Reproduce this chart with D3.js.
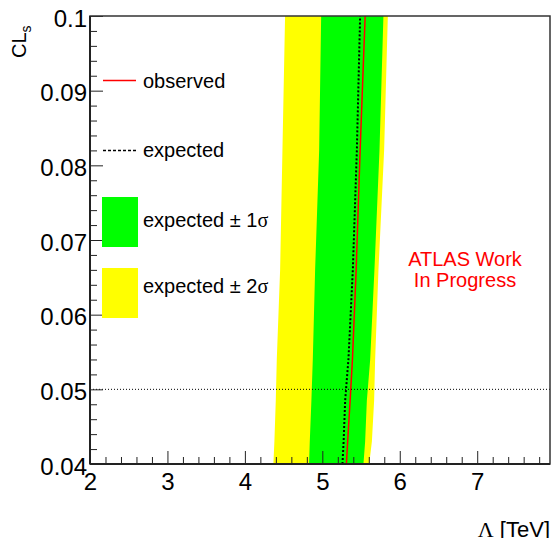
<!DOCTYPE html>
<html>
<head>
<meta charset="utf-8">
<script src="https://cdn.jsdelivr.net/npm/d3@7"></script>
<style>
  body { margin: 0; background: #fff; }
  text { font-family: "Liberation Sans", Arial, sans-serif; }
</style>
</head>
<body>
<div id="chart"></div>
<script>
var clsPoints = [0.04, 0.043, 0.0485, 0.054, 0.066, 0.082, 0.1];

// Lambda [TeV] of each curve at those CLs values
var yellowLow  = [4.368, 4.381, 4.399, 4.412, 4.455, 4.485, 4.519];
var greenLow   = [4.829, 4.838, 4.859, 4.877, 4.907, 4.959, 4.985];
var greenHigh  = [5.531, 5.553, 5.575, 5.618, 5.673, 5.738, 5.789];
var yellowHigh = [5.605, 5.640, 5.669, 5.682, 5.725, 5.798, 5.846];
var observed   = [5.311, 5.327, 5.359, 5.389, 5.437, 5.488, 5.553];
var expected   = [5.260, 5.275, 5.295, 5.337, 5.394, 5.446, 5.488];

// axis ticks
var xTicks = [2, 3, 4, 5, 6, 7];
var yTicks = [0.04, 0.05, 0.06, 0.07, 0.08, 0.09, 0.1];
var yTickLabels = ["0.04", "0.05", "0.06", "0.07", "0.08", "0.09", "0.1"];
var clsLimit = 0.05;

var svgWidth = 554;
var svgHeight = 538;

var margin = { top: 16, bottom: 74, right: 4, left: 90 };
var width = svgWidth - margin.left - margin.right;
var height = svgHeight - margin.top - margin.bottom;

var svg = d3.select("#chart")
    .append("svg")
    .attr("width", svgWidth)
    .attr("height", svgHeight);

var chartGroup = svg.append("g")
    .attr("transform", `translate(${margin.left}, ${margin.top})`);

var xScale = d3.scaleLinear().domain([2, 7.94]).range([0, width]);
var yScale = d3.scaleLinear().domain([0.04, 0.1]).range([height, 0]);

// clip the bands to the frame
chartGroup.append("clipPath").attr("id", "plotClip")
    .append("rect").attr("width", width).attr("height", height);

var plot = chartGroup.append("g").attr("clip-path", "url(#plotClip)");

function bandArea(lo, hi) {
    return d3.area()
        .y(function (d, i) { return yScale(clsPoints[i]); })
        .x0(function (d, i) { return xScale(lo[i]); })
        .x1(function (d, i) { return xScale(hi[i]); })(clsPoints);
}

function curveLine(vals) {
    return d3.line()
        .x(function (d, i) { return xScale(vals[i]); })
        .y(function (d, i) { return yScale(clsPoints[i]); })(clsPoints);
}

plot.append("path").attr("d", bandArea(yellowLow, yellowHigh)).attr("fill", "#ffff00");
plot.append("path").attr("d", bandArea(greenLow, greenHigh)).attr("fill", "#00ff00");

plot.append("path").attr("d", curveLine(expected))
    .attr("fill", "none").attr("stroke", "#000").attr("stroke-width", 2)
    .attr("stroke-dasharray", "2,2");
plot.append("path").attr("d", curveLine(observed))
    .attr("fill", "none").attr("stroke", "#ff0000").attr("stroke-width", 1.5);

// 95% CL line
chartGroup.append("line")
    .attr("x1", 0).attr("x2", width)
    .attr("y1", yScale(clsLimit)).attr("y2", yScale(clsLimit))
    .attr("stroke", "#000").attr("stroke-width", 1)
    .attr("stroke-dasharray", "1,2");

// x axis
var xMinor = d3.range(2, 7.95, 0.2).filter(function (v) { return Math.abs(v - Math.round(v)) > 0.01; });
chartGroup.append("g")
    .attr("transform", `translate(0, ${height})`)
    .call(d3.axisBottom(xScale).tickValues(xMinor).tickSize(-7).tickFormat(""))
    .call(function (g) { g.select(".domain").remove(); });

var xAxis = chartGroup.append("g")
    .attr("transform", `translate(0, ${height})`)
    .call(d3.axisBottom(xScale).tickValues(xTicks).tickSize(-13).tickPadding(9).tickFormat(d3.format("d")));
xAxis.select(".domain").remove();
xAxis.selectAll("text").attr("font-size", 24).attr("font-family", "Liberation Sans, Arial, sans-serif");

// y axis
var yMinor = d3.range(0.04, 0.1001, 0.002).filter(function (v) { return Math.abs(v * 100 - Math.round(v * 100)) > 0.01; });
chartGroup.append("g")
    .call(d3.axisLeft(yScale).tickValues(yMinor).tickSize(-7).tickFormat(""))
    .call(function (g) { g.select(".domain").remove(); });

var yAxis = chartGroup.append("g")
    .call(d3.axisLeft(yScale).tickValues(yTicks).tickSize(-13).tickPadding(3)
        .tickFormat(function (d, i) { return yTickLabels[i]; }));
yAxis.select(".domain").remove();
yAxis.selectAll("text").attr("font-size", 24).attr("dy", "0.42em")
    .attr("font-family", "Liberation Sans, Arial, sans-serif");

chartGroup.selectAll(".tick line").attr("stroke", "#222").attr("stroke-width", 1);

// frame
chartGroup.append("rect")
    .attr("width", width).attr("height", height)
    .attr("fill", "none").attr("stroke", "#333").attr("stroke-width", 1.5);
chartGroup.append("line")
    .attr("x1", 0).attr("x2", 0).attr("y1", 0).attr("y2", height)
    .attr("stroke", "#222").attr("stroke-width", 2);
chartGroup.append("line")
    .attr("x1", 0).attr("x2", width).attr("y1", height).attr("y2", height)
    .attr("stroke", "#222").attr("stroke-width", 2);

// axis titles
var xTitle = svg.append("text")
    .attr("x", 550).attr("y", 537)
    .attr("text-anchor", "end")
    .attr("font-size", 22);
xTitle.append("tspan").attr("font-family", "Liberation Serif, serif").text("Λ");
xTitle.append("tspan").text(" [TeV]");

var yTitle = svg.append("text")
    .attr("transform", "translate(26, 58) rotate(-90)")
    .attr("font-size", 20);
yTitle.append("tspan").text("CL");
yTitle.append("tspan").attr("font-size", 14).attr("dy", 5).text("s");

// legend
var legend = svg.append("g");
legend.append("line").attr("x1", 103).attr("x2", 136).attr("y1", 80.5).attr("y2", 80.5)
    .attr("stroke", "#ff0000").attr("stroke-width", 1.5);
legend.append("text").attr("x", 143).attr("y", 88).attr("font-size", 20).text("observed");

legend.append("line").attr("x1", 103).attr("x2", 136).attr("y1", 150.5).attr("y2", 150.5)
    .attr("stroke", "#000").attr("stroke-width", 1.5).attr("stroke-dasharray", "3,2");
legend.append("text").attr("x", 143).attr("y", 157).attr("font-size", 20).text("expected");

legend.append("rect").attr("x", 102).attr("y", 197).attr("width", 36).attr("height", 50)
    .attr("fill", "#00ff00");
var t1 = legend.append("text").attr("x", 143).attr("y", 227).attr("font-size", 20);
t1.append("tspan").text("expected ± 1");
t1.append("tspan").attr("font-family", "Liberation Serif, serif").text("σ");

legend.append("rect").attr("x", 102).attr("y", 268).attr("width", 36).attr("height", 50)
    .attr("fill", "#ffff00");
var t2 = legend.append("text").attr("x", 143).attr("y", 293).attr("font-size", 20);
t2.append("tspan").text("expected ± 2");
t2.append("tspan").attr("font-family", "Liberation Serif, serif").text("σ");

// label
svg.append("text").attr("x", 465).attr("y", 266).attr("text-anchor", "middle")
    .attr("font-size", 20).attr("fill", "#ff0000").text("ATLAS Work");
svg.append("text").attr("x", 465).attr("y", 287).attr("text-anchor", "middle")
    .attr("font-size", 20).attr("fill", "#ff0000").text("In Progress");
</script>
</body>
</html>
